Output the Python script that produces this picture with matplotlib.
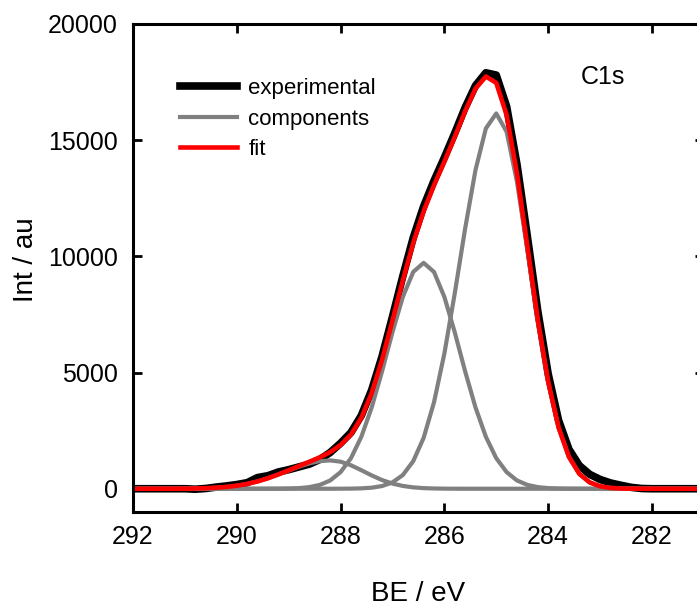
import matplotlib
matplotlib.use("Agg")
from matplotlib import pyplot as plt

plt.rcParams['font.family'] = ['Liberation Sans', 'DejaVu Sans']

# binding energy grid (eV), high to low
be = [292.0, 291.8, 291.6, 291.4, 291.2, 291.0, 290.8, 290.6, 290.4, 290.2,
      290.0, 289.8, 289.6, 289.4, 289.2, 289.0, 288.8, 288.6, 288.4, 288.2,
      288.0, 287.8, 287.6, 287.4, 287.2, 287.0, 286.8, 286.6, 286.4, 286.2,
      286.0, 285.8, 285.6, 285.4, 285.2, 285.0, 284.8, 284.6, 284.4, 284.2,
      284.0, 283.8, 283.6, 283.4, 283.2, 283.0, 282.8, 282.6, 282.4, 282.2,
      282.0, 281.8, 281.6, 281.4, 281.2, 281.0]

experimental = [0, 0, 0, 0, 0, 0, -20, 10, 70, 120,
                180, 260, 480, 560, 720, 820, 940, 1060, 1260, 1560,
                1960, 2420, 3150, 4250, 5700, 7400, 9150, 10800, 12150, 13250,
                14250, 15300, 16400, 17350, 17900, 17800, 16450, 13950, 10850, 7650,
                4950, 2950, 1700, 1000, 620, 400, 250, 150, 60, 10,
                0, 0, 0, 0, 0, 0]

# C-C / C-H
comp_cc = [0, 0, 0, 0, 0, 0, 0, 0, 0, 0,
           0, 0, 0, 0, 0, 0, 0, 0, 0, 0,
           2, 5, 16, 45, 116, 273, 590, 1185, 2185, 3715,
           5815, 8400, 11190, 13715, 15505, 16150, 15360, 13200, 10270, 7215,
           4585, 2630, 1370, 643, 273, 105, 36, 11, 3, 0,
           0, 0, 0, 0, 0, 0]

# C-O
comp_co = [0, 0, 0, 0, 0, 0, 0, 0, 0, 0,
           0, 0, 0, 1, 3, 10, 27, 70, 165, 355,
           715, 1315, 2235, 3500, 5055, 6735, 8255, 9330, 9720, 9330,
           8255, 6735, 5055, 3500, 2235, 1315, 715, 355, 165, 70,
           27, 10, 3, 0, 0, 0, 0, 0, 0, 0,
           0, 0, 0, 0, 0, 0]

# O-C=O
comp_coo = [0, 0, 0, 0, 2, 5, 11, 23, 43, 77,
            130, 207, 314, 450, 611, 783, 951, 1092, 1187, 1220,
            1164, 1010, 797, 572, 374, 222, 120, 59, 26, 11,
            4, 1, 0, 0, 0, 0, 0, 0, 0, 0,
            0, 0, 0, 0, 0, 0, 0, 0, 0, 0,
            0, 0, 0, 0, 0, 0]

fit = [0, 0, 0, 0, 2, 5, 11, 23, 43, 77,
       130, 207, 314, 451, 614, 793, 978, 1162, 1352, 1575,
       1881, 2330, 3048, 4117, 5545, 7230, 8965, 10574, 11931, 13056,
       14074, 15136, 16245, 17215, 17740, 17465, 16075, 13555, 10435, 7285,
       4612, 2640, 1373, 643, 273, 105, 36, 11, 3, 0,
       0, 0, 0, 0, 0, 0]

xticks = [292, 290, 288, 286, 284, 282]
yticks = [0, 5000, 10000, 15000, 20000]

fig = plt.figure(figsize=(6.97, 6.10), dpi=100)
# right edge of the frame runs just past the figure border
ax = fig.add_axes([0.1908, 0.1607, 0.819, 0.80])

ax.plot(be, experimental, c='black', lw=5.5, label='experimental')
ax.plot(be, comp_cc, c='#808080', lw=3.0, label='components')
ax.plot(be, comp_co, c='#808080', lw=3.0)
ax.plot(be, comp_coo, c='#808080', lw=3.0)
ax.plot(be, fit, c='#ff0000', lw=3.3, label='fit')

ax.set_xlim(292, 281)
ax.set_ylim(-1000, 20000)
ax.set_xticks(xticks)
ax.set_yticks(yticks)

for s in ax.spines.values():
    s.set_linewidth(2.2)
ax.tick_params(direction='in', length=6.5, width=2.0, labelsize=18,
               top=True, right=True)
ax.tick_params(axis='x', pad=9.5)
ax.tick_params(axis='y', pad=11)

ax.set_xlabel('BE / eV', fontsize=20)
ax.set_ylabel('Int / au', fontsize=20)
ax.xaxis.set_label_coords(0.5, -0.141)
ax.yaxis.set_label_coords(-0.165, 0.516)

ax.text(0.824, 0.877, 'C1s', fontsize=18, ha='center', va='baseline',
        transform=ax.transAxes)

ax.legend(loc='upper left', bbox_to_anchor=(0.0823, 0.889), frameon=False,
          fontsize=16, handlelength=2.57, handletextpad=0.5,
          labelspacing=0.43, borderpad=0, borderaxespad=0)

fig.savefig('out.png', dpi=100)
